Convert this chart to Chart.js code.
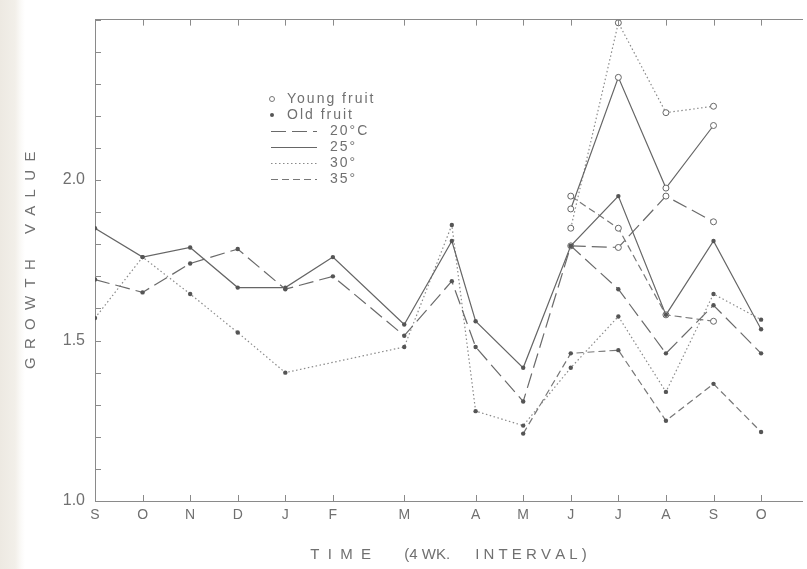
<!DOCTYPE html>
<html>
<head>
<meta charset="utf-8">
<script src="https://cdn.jsdelivr.net/npm/chart.js@4"></script>
<style>
  html, body { margin: 0; padding: 0; }
  body {
    width: 807px; height: 569px;
    background: linear-gradient(to right, #ede9e2 0px, #f2efe9 15px, #fbfaf8 21px, #ffffff 25px);
  }
  canvas { display: block; }
</style>
</head>
<body>
<canvas id="growthChart" width="807" height="569"></canvas>
<script>
// --- Axis categories (4 wk. intervals) ---
const monthLabels = ["S", "O", "N", "D", "J", "F", "M", "A", "M", "J", "J", "A", "S", "O"];
const monthPos = [0, 1, 2, 3, 4, 5, 6.5, 8, 9, 10, 11, 12, 13, 14];

// --- Old fruit (filled dots), sampled at these positions ---
const oldPos = [0, 1, 2, 3, 4, 5, 6.5, 7.5, 8, 9, 10, 11, 12, 13, 14];
const old20 = [1.69, 1.65, 1.74, 1.785, 1.66, 1.70, 1.515, 1.685, 1.48, 1.31, 1.795, 1.66, 1.46, 1.61, 1.46];
const old25 = [1.85, 1.76, 1.79, 1.665, 1.665, 1.76, 1.55, 1.81, 1.56, 1.415, 1.795, 1.95, 1.58, 1.81, 1.535];
const old30 = [1.57, 1.76, 1.645, 1.525, 1.40, null, 1.48, 1.86, 1.28, 1.235, 1.415, 1.575, 1.34, 1.645, 1.565];
const old35 = [null, null, null, null, null, null, null, null, null, 1.21, 1.46, 1.47, 1.25, 1.365, 1.215];

// --- Young fruit (open circles) ---
const youngPos = [10, 11, 12, 13];
const young20 = [1.795, 1.79, 1.95, 1.87];
const young25 = [1.91, 2.32, 1.975, 2.17];
const young30 = [1.85, 2.49, 2.21, 2.23];
const young35 = [1.95, 1.85, 1.58, 1.56];

// --- Text ---
const keyLabels = ["Young fruit", "Old fruit", "20°C", "25°", "30°", "35°"];
const yTitle = "G  R  O  W  T  H      V  A  L  U  E";
const xTitle = "T  I  M  E        (4 WK.      I N T E R V A L )";

// --- Look ---
const FONT = "'Liberation Sans', Arial, sans-serif";
const TEXT = "#707070";
const AXIS = "#8a8a8a";
const X_MAX = 14.86;

const lineLook = {
  t20: { borderDash: [15, 6], borderColor: "#6a6a6a" },
  t25: { borderDash: [], borderColor: "#666" },
  t30: { borderDash: [1.5, 2.5], borderColor: "#8a8a8a" },
  t35: { borderDash: [7, 4], borderColor: "#777" }
};

function pts(xs, ys) {
  return xs.map((x, i) => ({ x: x, y: ys[i] }));
}

function oldSet(label, ys, look) {
  return {
    label: label, data: pts(oldPos, ys),
    borderColor: look.borderColor, borderDash: look.borderDash, borderWidth: 1.2,
    pointRadius: 2.2, pointBackgroundColor: "#555", pointBorderWidth: 0,
    spanGaps: true, tension: 0, fill: false
  };
}

function youngSet(label, ys, look) {
  return {
    label: label, data: pts(youngPos, ys),
    borderColor: look.borderColor, borderDash: look.borderDash, borderWidth: 1.2,
    pointRadius: 3, pointBackgroundColor: "#fff", pointBorderColor: "#666", pointBorderWidth: 1,
    tension: 0, fill: false
  };
}

// --- Inward tick marks, placed by the scales ---
const inwardTicks = {
  id: "inwardTicks",
  afterDraw(chart) {
    const { ctx, chartArea, scales } = chart;
    ctx.save();
    ctx.strokeStyle = AXIS;
    ctx.lineWidth = 1;
    ctx.beginPath();
    scales.y.ticks.forEach(t => {
      const y = Math.round(scales.y.getPixelForValue(t.value)) + 0.5;
      ctx.moveTo(chartArea.left, y);
      ctx.lineTo(chartArea.left + 6, y);
    });
    scales.x.ticks.forEach(t => {
      const x = Math.round(scales.x.getPixelForValue(t.value)) + 0.5;
      ctx.moveTo(x, chartArea.bottom);
      ctx.lineTo(x, chartArea.bottom - 6);
      ctx.moveTo(x, chartArea.top);
      ctx.lineTo(x, chartArea.top + 6);
    });
    ctx.stroke();
    ctx.restore();
  }
};

// --- Key in the upper left of the plot ---
const keyBox = {
  id: "keyBox",
  afterDraw(chart) {
    const ctx = chart.ctx;
    const left = 271, lineLen = 46, rowH = 16, top = 99;
    const markText = 287, lineText = 330;
    const lineSets = [0, 1, 2, 3].map(i => chart.data.datasets[i]);
    ctx.save();
    ctx.font = "14px " + FONT;
    ctx.letterSpacing = "2px";
    ctx.textBaseline = "middle";
    keyLabels.forEach((lab, i) => {
      const y = top + i * rowH;
      ctx.fillStyle = TEXT;
      if (i === 0) {
        ctx.beginPath();
        ctx.arc(left + 1, y, 2.5, 0, Math.PI * 2);
        ctx.strokeStyle = "#777"; ctx.lineWidth = 1; ctx.setLineDash([]);
        ctx.stroke();
        ctx.fillText(lab, markText, y);
      } else if (i === 1) {
        ctx.beginPath();
        ctx.arc(left + 1, y, 2, 0, Math.PI * 2);
        ctx.fillStyle = "#555"; ctx.fill();
        ctx.fillStyle = TEXT;
        ctx.fillText(lab, markText, y);
      } else {
        const ds = lineSets[i - 2];
        ctx.beginPath();
        ctx.setLineDash(ds.borderDash);
        ctx.strokeStyle = ds.borderColor; ctx.lineWidth = 1.2;
        ctx.moveTo(left, y + 0.5);
        ctx.lineTo(left + lineLen, y + 0.5);
        ctx.stroke();
        ctx.setLineDash([]);
        ctx.fillText(lab, lineText, y);
      }
    });
    ctx.restore();
  }
};

new Chart(document.getElementById("growthChart"), {
  type: "line",
  data: {
    datasets: [
      oldSet("20°C old", old20, lineLook.t20),
      oldSet("25° old", old25, lineLook.t25),
      oldSet("30° old", old30, lineLook.t30),
      oldSet("35° old", old35, lineLook.t35),
      youngSet("20°C young", young20, lineLook.t20),
      youngSet("25° young", young25, lineLook.t25),
      youngSet("30° young", young30, lineLook.t30),
      youngSet("35° young", young35, lineLook.t35)
    ]
  },
  options: {
    responsive: false,
    animation: false,
    devicePixelRatio: 1,
    layout: { padding: 0 },
    plugins: { legend: { display: false }, tooltip: { enabled: false } },
    scales: {
      x: {
        type: "linear", position: "bottom", min: 0, max: X_MAX,
        afterBuildTicks: s => { s.ticks = monthPos.map(v => ({ value: v })); },
        afterFit: s => { s.height = 68; },
        grid: { drawOnChartArea: false, drawTicks: false },
        border: { color: AXIS, width: 1 },
        ticks: {
          color: TEXT, font: { family: FONT, size: 14 }, padding: 6,
          maxRotation: 0, autoSkip: false,
          callback: (v, i) => monthLabels[i]
        },
        title: {
          display: true, text: xTitle, color: TEXT,
          font: { family: FONT, size: 15 }, padding: { top: 0, bottom: 5 }
        }
      },
      x2: {
        type: "linear", position: "top", min: 0, max: X_MAX,
        afterBuildTicks: s => { s.ticks = monthPos.map(v => ({ value: v })); },
        afterFit: s => { s.height = 18; },
        grid: { drawOnChartArea: false, drawTicks: false },
        border: { color: AXIS, width: 1 },
        ticks: { display: false }
      },
      y: {
        min: 1.0, max: 2.5,
        afterFit: s => { s.width = 95; },
        grid: { drawOnChartArea: false, drawTicks: false },
        border: { color: AXIS, width: 1 },
        ticks: {
          stepSize: 0.1, autoSkip: false, color: TEXT, padding: 10,
          font: { family: FONT, size: 16 },
          callback: v => {
            const half = Math.round(v * 2);
            return (Math.abs(v * 2 - half) < 1e-6 && v <= 2.0001) ? (half / 2).toFixed(1) : "";
          }
        },
        title: {
          display: true, text: yTitle, color: TEXT,
          font: { family: FONT, size: 15 }, padding: { top: 22, bottom: 0 }
        }
      }
    }
  },
  plugins: [inwardTicks, keyBox]
});
</script>
</body>
</html>
